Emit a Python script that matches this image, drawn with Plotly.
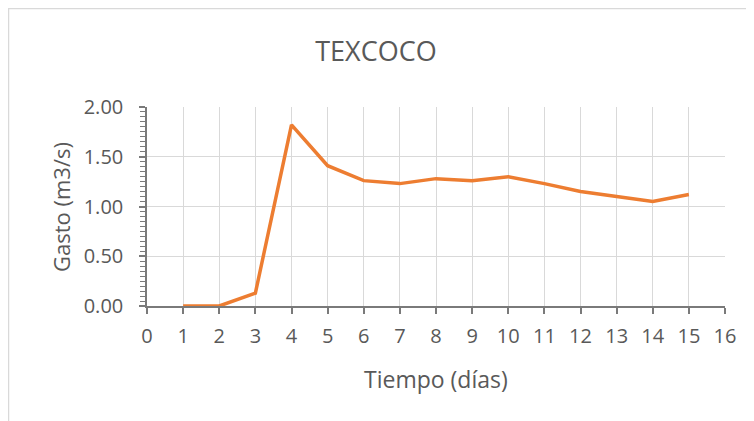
"""
TEXCOCO - gasto vs tiempo, Excel-style line chart
"""

import plotly.graph_objects as go

# data
dias = [1, 2, 3, 4, 5, 6, 7, 8, 9, 10, 11, 12, 13, 14, 15]
gasto = [0.00, 0.00, 0.13, 1.82, 1.41, 1.26, 1.23, 1.28, 1.26, 1.30, 1.23, 1.15, 1.10, 1.05, 1.12]

x_ticks = list(range(0, 17))
y_ticks = [0.0, 0.5, 1.0, 1.5, 2.0]
y_tick_labels = ["0.00", "0.50", "1.00", "1.50", "2.00"]

FONT = "Open Sans"
TXT = "#595959"
AXIS = "#7a7a7a"
GRID = "#d9d9d9"

# the page puts the figure 8px in from the top-left corner
L, R, T, B = 139, 37, 99, 123
PW, PH = 754 - L - R, 421 - T - B

fig = go.Figure()

fig.add_trace(go.Scatter(
    x=dias,
    y=gasto,
    mode='lines',
    line=dict(color="#ED7D31", width=3.5),
    showlegend=False
))

fig.update_layout(
    width=754,
    height=421,
    margin={"l": L, "r": R, "t": T, "b": B},
    paper_bgcolor="white",
    plot_bgcolor="white",
    font=dict(family=FONT, color=TXT),
    title=dict(
        text="TEXCOCO",
        x=(368 - L) / PW, xref="paper", xanchor="center",
        y=1 - 44 / 421, yref="container", yanchor="middle",
        font=dict(size=27, color=TXT, family=FONT)
    ),
)

fig.update_xaxes(
    range=[0, 16],
    tickvals=x_ticks,
    showgrid=True, gridcolor=GRID, gridwidth=1.3,
    showline=True, linecolor=AXIS, linewidth=1.5,
    ticks="outside", ticklen=6, tickcolor=AXIS, tickwidth=1.5,
    tickfont=dict(size=20, color=TXT),
    ticklabelstandoff=5,
    zeroline=False,
)

fig.update_yaxes(
    range=[0, 2],
    tickvals=y_ticks,
    ticktext=y_tick_labels,
    showgrid=True, gridcolor=GRID, gridwidth=1.3,
    showline=True, linecolor=AXIS, linewidth=1.5,
    ticks="outside", ticklen=6, tickcolor=AXIS, tickwidth=1.5,
    minor=dict(dtick=0.05, ticks="outside", ticklen=5, tickcolor=AXIS, tickwidth=1.2, showgrid=False),
    tickfont=dict(size=20, color=TXT),
    ticklabelstandoff=12,
    zeroline=False,
)

# axis titles (positions relative to the plot area)
fig.add_annotation(
    text="Tiempo (días)", xref="paper", yref="paper",
    x=(428 - L) / PW, y=(298 - 371) / PH,
    xanchor="center", yanchor="middle", showarrow=False,
    font=dict(size=23, color=TXT, family=FONT)
)
fig.add_annotation(
    text="Gasto (m3/s)", xref="paper", yref="paper",
    x=(53 - L) / PW, y=(298 - 199) / PH, textangle=-90,
    xanchor="center", yanchor="middle", showarrow=False,
    font=dict(size=22, color=TXT, family=FONT)
)

# chart area border (only top and left edges show in the crop)
fig.add_shape(
    type="rect", xref="paper", yref="paper",
    x0=(0.5 - L) / PW, x1=1.2,
    y0=-0.8, y1=(T + PH - 0.5) / PH,
    line=dict(color=GRID, width=1.5), fillcolor="rgba(0,0,0,0)",
    layer="below"
)

fig.write_html("out.html")
